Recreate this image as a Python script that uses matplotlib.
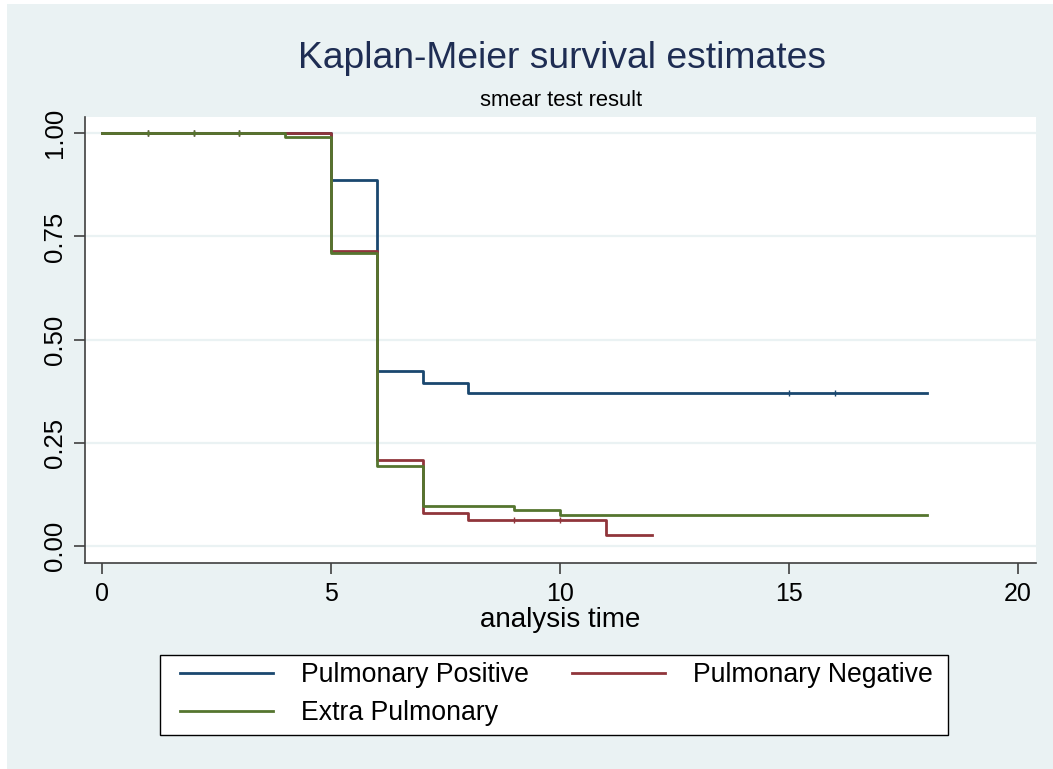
import matplotlib.pyplot as plt
import matplotlib.patches as mpatches
import numpy as np

plt.rcParams['font.family'] = ['Liberation Sans', 'DejaVu Sans']

# Kaplan-Meier step estimates
pos_time = [0, 5, 6, 7, 8, 18]
pos_surv = [1.0, 0.886, 0.424, 0.394, 0.370, 0.370]
pos_cens = [1, 2, 3, 15, 16]

neg_time = [0, 5, 6, 7, 8, 11, 12]
neg_surv = [1.0, 0.715, 0.208, 0.080, 0.063, 0.026, 0.026]
neg_cens = [1, 2, 3, 9, 10]

ext_time = [0, 4, 5, 6, 7, 9, 10, 18]
ext_surv = [1.0, 0.992, 0.711, 0.195, 0.098, 0.087, 0.076, 0.076]
ext_cens = [1, 2, 3]

labels = ["Pulmonary Positive", "Pulmonary Negative", "Extra Pulmonary"]
colors = ["#1A476F", "#90353B", "#55752F"]
x_ticks = [0, 5, 10, 15, 20]
y_ticks = [0.0, 0.25, 0.5, 0.75, 1.0]
y_ticklabels = ["0.00", "0.25", "0.50", "0.75", "1.00"]

bg = "#EAF2F3"
W, H = 1053, 769

fig = plt.figure(figsize=(W / 100, H / 100), dpi=100)
fig.patch.set_facecolor("white")
fig.patches.append(mpatches.Rectangle((7 / W, 0), 1 - 7 / W, 1 - 4 / H,
                                      transform=fig.transFigure, facecolor=bg,
                                      edgecolor="none", zorder=-10))

ax = fig.add_axes([0.0807, 0.2685, 0.9032, 0.5797])
ax.set_facecolor("white")

handles = []
groups = [(pos_time, pos_surv, pos_cens), (neg_time, neg_surv, neg_cens),
          (ext_time, ext_surv, ext_cens)]
for idx, (t, s, c) in enumerate(groups):
    line, = ax.step(t, s, where="post", color=colors[idx], lw=2.0,
                    label=labels[idx], zorder=3 + idx)
    t_arr = np.array(t)
    s_arr = np.array(s)
    cy = s_arr[np.searchsorted(t_arr, c, side="right") - 1]
    ax.plot(c, cy, ls="none", marker="|", ms=4, mew=1.0,
            color=colors[idx], zorder=3 + idx)
    handles.append(line)

for v in y_ticks:
    ax.axhline(v, color=bg, lw=1.6, zorder=1)

ax.set_xlim(-0.37, 20.39)
ax.set_ylim(-0.04, 1.04)
ax.set_xticks(x_ticks)
ax.set_yticks(y_ticks)
ax.set_yticklabels(y_ticklabels, rotation=90, va="center")
ax.tick_params(axis="both", labelsize=18, length=8, width=1.2,
               color="#404040", pad=6)
ax.tick_params(axis="y", labelsize=18.5, pad=5)
for side in ["top", "right"]:
    ax.spines[side].set_visible(False)
for side in ["left", "bottom"]:
    ax.spines[side].set_color("#404040")
    ax.spines[side].set_linewidth(1.2)

ax.set_xlabel("analysis time", fontsize=20, labelpad=1)

fig.text(562 / W, 1 - 59 / H, "Kaplan-Meier survival estimates",
         ha="center", va="center", fontsize=26.8, color="#1E2D53")
fig.text(561 / W, 1 - 100 / H, "smear test result",
         ha="center", va="center", fontsize=15.8, color="black")

# legend frame drawn separately so the padding matches the original box
fig.patches.append(mpatches.Rectangle((160 / W, 1 - 735 / H), 788 / W, 80 / H,
                                      transform=fig.transFigure,
                                      facecolor="white", edgecolor="black",
                                      lw=1.0, zorder=1))
order = [handles[0], handles[2], handles[1]]
order_labels = [labels[0], labels[2], labels[1]]
leg = fig.legend(order, order_labels, ncol=2, loc="center",
                 bbox_to_anchor=(556.5 / W, 1 - 694.5 / H),
                 fontsize=19.2, handlelength=3.5, handletextpad=1.06,
                 columnspacing=1.6, labelspacing=0.45, borderpad=0.0,
                 frameon=False)
leg.set_zorder(5)

fig.savefig("out.png", dpi=100, facecolor=fig.get_facecolor())
